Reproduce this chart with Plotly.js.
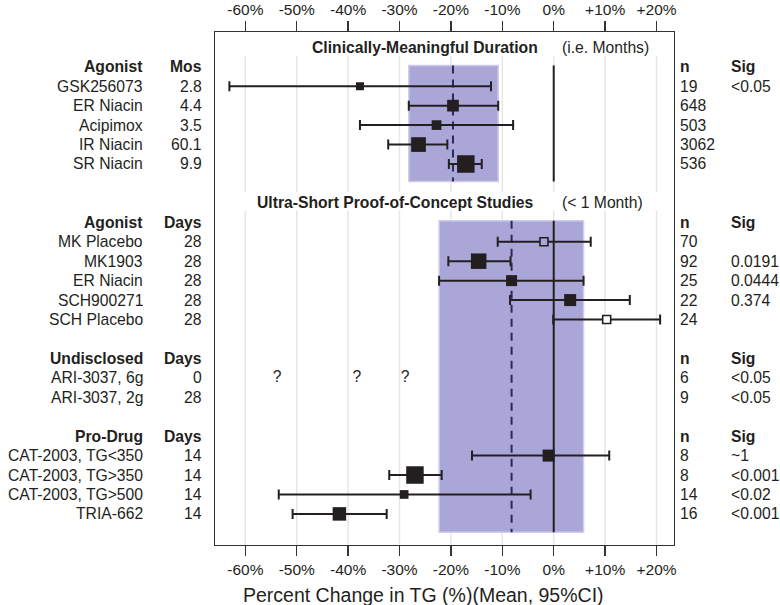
<!DOCTYPE html>
<html>
<head>
<meta charset="utf-8">
<script src="https://cdn.plot.ly/plotly-3.0.1.min.js"></script>
<style>html,body{margin:0;padding:0;background:#fff;}#chart{width:780px;height:605px;}</style>
</head>
<body>
<div id="chart"></div>
<script>
// ---------- DATA ----------
// Section 1: clinically-meaningful duration (months)
const s1Title = 'Clinically-Meaningful Duration';
const s1Note = '(i.e. Months)';
const s1Head = ['Agonist', 'Mos', 'n', 'Sig'];
const s1Names = ['GSK256073', 'ER Niacin', 'Acipimox', 'IR Niacin', 'SR Niacin'];
const s1Dur = ['2.8', '4.4', '3.5', '60.1', '9.9'];
const s1N = ['19', '648', '503', '3062', '536'];
const s1Sig = ['&lt;0.05', '', '', '', ''];
const s1Mean = [-37.7, -19.6, -22.8, -26.3, -17.1];
const s1Lo = [-63.1, -28.2, -37.7, -32.2, -20.4];
const s1Hi = [-12.2, -10.8, -7.9, -20.7, -14.0];
const s1Weight = [8, 11.7, 9.7, 14.7, 17.5];

// Section 2: ultra-short proof-of-concept studies (< 1 month)
const s2Title = 'Ultra-Short Proof-of-Concept Studies';
const s2Note = '(&lt; 1 Month)';
const s2Head = ['Agonist', 'Days', 'n', 'Sig'];
const s2Names = ['MK Placebo', 'MK1903', 'ER Niacin', 'SCH900271', 'SCH Placebo'];
const s2Dur = ['28', '28', '28', '28', '28'];
const s2N = ['70', '92', '25', '22', '24'];
const s2Sig = ['', '0.0191', '0.0444', '0.374', ''];
const s2Mean = [-1.9, -14.6, -8.2, 3.2, 10.3];
const s2Lo = [-10.9, -20.5, -22.3, -8.5, -0.1];
const s2Hi = [7.2, -8.4, 5.8, 14.8, 20.7];
const s2Weight = [8, 15.5, 11, 12, 8];

const s3Head = ['Undisclosed', 'Days', 'n', 'Sig'];
const s3Names = ['ARI-3037, 6g', 'ARI-3037, 2g'];
const s3Dur = ['0', '28'];
const s3N = ['6', '9'];
const s3Sig = ['&lt;0.05', '&lt;0.05'];
const s3Unknown = [-53.8, -38.3, -28.9]; // "?" marks on the ARI-3037, 6g row

const s4Head = ['Pro-Drug', 'Days', 'n', 'Sig'];
const s4Names = ['CAT-2003, TG&lt;350', 'CAT-2003, TG&gt;350', 'CAT-2003, TG&gt;500', 'TRIA-662'];
const s4Dur = ['14', '14', '14', '14'];
const s4N = ['8', '8', '14', '16'];
const s4Sig = ['~1', '&lt;0.001', '&lt;0.02', '&lt;0.001'];
const s4Mean = [-1.0, -27.0, -29.1, -41.7];
const s4Lo = [-15.9, -32.0, -53.5, -50.8];
const s4Hi = [10.8, -21.8, -4.5, -32.5];
const s4Weight = [12, 17.5, 8.7, 13.5];

const tickVals = [-60, -50, -40, -30, -20, -10, 0, 10, 20];
const tickText = ['-60%', '-50%', '-40%', '-30%', '-20%', '-10%', '0%', '+10%', '+20%'];
const xTitle = 'Percent Change in TG (%)(Mean, 95%CI)';
const refName = 'ER Niacin';

// ---------- LAYOUT OF ROWS ----------
const FONT = 'Liberation Sans, Arial, Helvetica, sans-serif';
const INK = '#231f20';
const BAND = '#aaa6d7';
const BAND_EDGE = '#cfcbea';
const DASH = '#2c2a55';
const FS = 15.7;

let row = 0;
const title1Row = row++;
const head1Row = row++;
const rows1 = s1Names.map(() => row++);
const gap1Row = row++;
const title2Row = row++;
const head2Row = row++;
const rows2 = s2Names.map(() => row++);
row++;
const head3Row = row++;
const rows3 = s3Names.map(() => row++);
row++;
const head4Row = row++;
const rows4 = s4Names.map(() => row++);
const lastRow = row - 1;
const yTop = title1Row - 0.79;
const yBot = lastRow + 1.6;

const xRange = [-65.9, 23.4];

// column positions (paper coords)
const colName = -0.1525, colDur = -0.0229, colN = 1.0087, colSig = 1.1209;

const ann = [];
function txt(x, y, text, anchor, bold, xref) {
  ann.push({x: x, y: y, xref: xref || 'paper', yref: 'y', text: bold ? '<b>' + text + '</b>' : text,
    showarrow: false, xanchor: anchor, yanchor: 'middle',
    font: {family: FONT, size: FS, color: INK}});
}
function header(r, h) {
  txt(colName, r, h[0], 'right', true);
  txt(colDur, r, h[1], 'right', true);
  txt(colN, r, h[2], 'left', true);
  txt(colSig, r, h[3], 'left', true);
}
function rowsText(rs, names, dur, n, sig) {
  rs.forEach((r, i) => {
    txt(colName, r, names[i], 'right');
    txt(colDur, r, dur[i], 'right');
    txt(colN, r, n[i], 'left');
    if (sig[i]) txt(colSig, r, sig[i], 'left');
  });
}
header(head1Row, s1Head); rowsText(rows1, s1Names, s1Dur, s1N, s1Sig);
header(head2Row, s2Head); rowsText(rows2, s2Names, s2Dur, s2N, s2Sig);
header(head3Row, s3Head); rowsText(rows3, s3Names, s3Dur, s3N, s3Sig);
header(head4Row, s4Head); rowsText(rows4, s4Names, s4Dur, s4N, s4Sig);

// section titles
txt(-2.7, title1Row, s1Title, 'right', true, 'x');
txt(1.2, title1Row, s1Note, 'left', false, 'x');
txt(-3.5, title2Row, s2Title, 'right', true, 'x');
txt(1.3, title2Row, s2Note, 'left', false, 'x');

// x-axis title
ann.push({x: 0.4547, y: -0.0975, xref: 'paper', yref: 'paper', text: xTitle, showarrow: false,
  xanchor: 'center', yanchor: 'middle', font: {family: FONT, size: 19.5, color: INK}});

// ---------- SHAPES ----------
const shapes = [];
// gridlines, broken at section titles
tickVals.forEach(v => {
  [[title1Row + 0.45, gap1Row + 0.45], [title2Row + 0.4, yBot]].forEach(seg => {
    shapes.push({type: 'line', layer: 'below', xref: 'x', yref: 'y', x0: v, x1: v, y0: seg[0], y1: seg[1],
      line: {color: '#e6e6e6', width: 1.5}});
  });
});
// reference bands (ER Niacin CI) per section
const bandSpecs = [
  {names: s1Names, lo: s1Lo, hi: s1Hi, mean: s1Mean, y0: head1Row - 0.07, y1: rows1[rows1.length - 1] + 0.9},
  {names: s2Names, lo: s2Lo, hi: s2Hi, mean: s2Mean, y0: head2Row - 0.08, y1: lastRow + 0.95}
];
bandSpecs.forEach(b => {
  const k = b.names.indexOf(refName);
  shapes.push({type: 'rect', layer: 'below', xref: 'x', yref: 'y', x0: b.lo[k], x1: b.hi[k], y0: b.y0, y1: b.y1,
    fillcolor: BAND, line: {color: BAND_EDGE, width: 1.5}});
  shapes.push({type: 'line', layer: 'below', xref: 'x', yref: 'y', x0: b.mean[k], x1: b.mean[k], y0: b.y0, y1: b.y1,
    line: {color: DASH, width: 2, dash: '8px,6px'}});
  shapes.push({type: 'line', layer: 'below', xref: 'x', yref: 'y', x0: 0, x1: 0, y0: b.y0, y1: b.y1,
    line: {color: INK, width: 2}});
});

// ---------- TRACES ----------
const allMean = [], allLo = [], allHi = [], allRow = [], allSize = [], allName = [], allBand = [];
function collect(names, mean, lo, hi, w, rs, bandIdx) {
  names.forEach((nm, i) => {
    allName.push(nm); allMean.push(mean[i]); allLo.push(lo[i]); allHi.push(hi[i]);
    allRow.push(rs[i]); allSize.push(w[i]); allBand.push(bandIdx);
  });
}
collect(s1Names, s1Mean, s1Lo, s1Hi, s1Weight, rows1, 0);
collect(s2Names, s2Mean, s2Lo, s2Hi, s2Weight, rows2, 1);
collect(s4Names, s4Mean, s4Lo, s4Hi, s4Weight, rows4, 1);

function subset(pred) {
  return allName.map((n, i) => i).filter(i => pred(allName[i]));
}
const filledIdx = subset(n => n.indexOf('Placebo') < 0);
const openIdx = subset(n => n.indexOf('Placebo') >= 0);

function mkTrace(idx, open) {
  return {
    type: 'scatter', mode: 'markers', xaxis: 'x', yaxis: 'y',
    x: idx.map(i => allMean[i]), y: idx.map(i => allRow[i]),
    error_x: {type: 'data', symmetric: false,
      array: idx.map(i => allHi[i] - allMean[i]), arrayminus: idx.map(i => allMean[i] - allLo[i]),
      color: INK, thickness: 2, width: 5},
    marker: {
      symbol: 'square', size: idx.map(i => allSize[i]), opacity: 1,
      color: open ? idx.map(i => {
        const b = bandSpecs[allBand[i]], k = b.names.indexOf(refName);
        return (allMean[i] >= b.lo[k] && allMean[i] <= b.hi[k]) ? BAND : '#ffffff';
      }) : INK,
      line: {color: INK, width: open ? 1.6 : 0}
    },
    opacity: 1,
    hoverinfo: 'skip', showlegend: false, cliponaxis: false
  };
}
const traces = [mkTrace(filledIdx, false), mkTrace(openIdx, true)];
traces.push({
  type: 'scatter', mode: 'text', xaxis: 'x2', yaxis: 'y',
  x: s3Unknown, y: s3Unknown.map(() => rows3[0]), text: s3Unknown.map(() => '?'),
  textfont: {family: FONT, size: FS, color: INK}, textposition: 'middle center',
  hoverinfo: 'skip', showlegend: false
});

const axisCommon = {
  range: xRange, tickmode: 'array', tickvals: tickVals, ticktext: tickText,
  ticks: 'outside', ticklen: 10, tickwidth: 1.3, tickcolor: '#333',
  tickfont: {family: FONT, size: 15.5, color: INK},
  showgrid: false, zeroline: false, fixedrange: true
};

const layout = {
  width: 780, height: 605,
  margin: {l: 215, r: 106, t: 32, b: 60},
  paper_bgcolor: '#ffffff', plot_bgcolor: 'rgba(0,0,0,0)',
  font: {family: FONT, color: INK},
  showlegend: false,
  xaxis: Object.assign({}, axisCommon, {side: 'bottom', showline: true, mirror: true, linecolor: '#333', linewidth: 1.3, anchor: 'y'}),
  xaxis2: Object.assign({}, axisCommon, {side: 'top', overlaying: 'x', anchor: 'y', showline: false}),
  yaxis: {range: [yBot, yTop], showline: true, mirror: true, linecolor: '#333', linewidth: 1.3,
    showticklabels: false, ticks: '', showgrid: false, zeroline: false, fixedrange: true},
  shapes: shapes,
  annotations: ann
};

Plotly.newPlot('chart', traces, layout, {staticPlot: true, displayModeBar: false});
</script>
</body>
</html>
